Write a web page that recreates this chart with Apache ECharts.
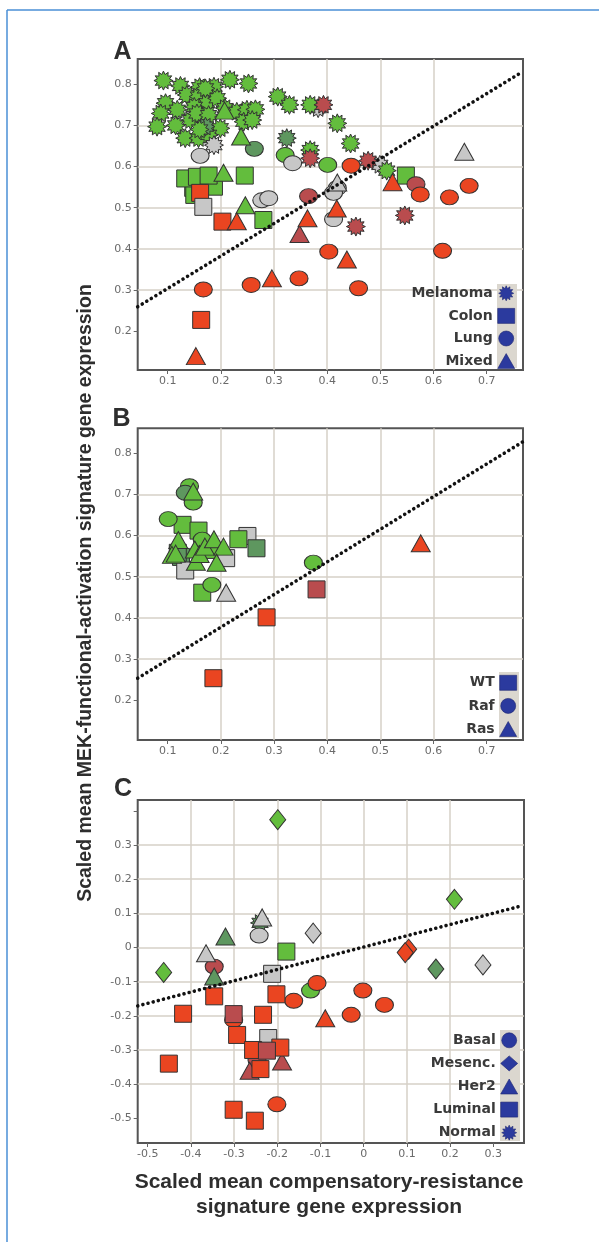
<!DOCTYPE html>
<html><head><meta charset="utf-8">
<script src="https://cdn.jsdelivr.net/npm/echarts@6/dist/echarts.min.js"></script>
<style>html,body{margin:0;padding:0;background:#fff;}#c{width:599px;height:1242px;}</style>
</head><body><div id="c"></div>
<script>
// ---------------- tick labels ----------------
const xTicksAB = [0.1, 0.2, 0.3, 0.4, 0.5, 0.6, 0.7];
const yTicksAB = [0.2, 0.3, 0.4, 0.5, 0.6, 0.7, 0.8];
const xTicksC = [-0.5, -0.4, -0.3, -0.2, -0.1, 0, 0.1, 0.2, 0.3];
const yTicksC = [-0.5, -0.4, -0.3, -0.2, -0.1, 0, 0.1, 0.2, 0.3];
const yTickMarksC = [-0.5, -0.4, -0.3, -0.2, -0.1, 0, 0.1, 0.2, 0.3, 0.4];

// colour codes: g = green, dg = dark green, gr = grey, r = red, dr = dark red
// ---------------- Panel A ----------------
const aMelanoma = [
  [0.092,0.809,'g'],[0.124,0.796,'g'],[0.160,0.793,'g'],[0.187,0.794,'g'],[0.217,0.811,'g'],[0.252,0.802,'g'],
  [0.096,0.754,'g'],[0.087,0.729,'g'],[0.118,0.738,'g'],[0.136,0.774,'g'],[0.158,0.770,'g'],[0.174,0.754,'g'],
  [0.193,0.766,'g'],[0.208,0.742,'g'],[0.230,0.733,'g'],[0.249,0.738,'g'],[0.265,0.739,'g'],[0.150,0.745,'g'],
  [0.080,0.697,'g'],[0.143,0.713,'g'],[0.155,0.729,'g'],[0.177,0.725,'g'],[0.199,0.693,'g'],[0.133,0.669,'g'],
  [0.158,0.669,'g'],[0.177,0.677,'g'],[0.243,0.709,'g'],[0.259,0.713,'g'],[0.115,0.700,'g'],[0.171,0.790,'g'],
  [0.171,0.697,'dg'],[0.160,0.690,'g'],
  [0.307,0.770,'g'],[0.329,0.750,'g'],[0.383,0.742,'gr'],[0.368,0.750,'g'],[0.419,0.705,'g'],[0.444,0.656,'g'],
  [0.324,0.669,'dg'],[0.368,0.640,'g'],[0.187,0.652,'gr'],[0.499,0.604,'gr'],[0.512,0.590,'g'],
  [0.393,0.750,'dr'],[0.368,0.620,'dr'],[0.477,0.614,'dr'],[0.454,0.454,'dr'],[0.546,0.481,'dr']
];
const aColon = [
  [0.148,0.548,'g'],[0.187,0.551,'g'],[0.150,0.531,'g'],
  [0.133,0.571,'g'],[0.155,0.575,'g'],[0.177,0.578,'g'],[0.245,0.578,'g'],[0.280,0.470,'g'],[0.548,0.578,'g'],
  [0.161,0.536,'r'],[0.167,0.502,'gr'],[0.203,0.466,'r'],[0.163,0.227,'r']
];
const aLung = [
  [0.161,0.626,'gr'],[0.263,0.643,'dg'],[0.321,0.628,'g'],[0.335,0.608,'gr'],[0.401,0.604,'g'],
  [0.277,0.518,'gr'],[0.290,0.523,'gr'],[0.419,0.548,'gr'],[0.412,0.536,'gr'],[0.412,0.472,'gr'],
  [0.365,0.528,'dr'],[0.567,0.557,'dr'],
  [0.167,0.301,'r'],[0.257,0.312,'r'],[0.347,0.328,'r'],[0.459,0.304,'r'],[0.403,0.393,'r'],[0.617,0.395,'r'],
  [0.445,0.602,'r'],[0.575,0.532,'r'],[0.630,0.525,'r'],[0.667,0.553,'r']
];
const aMixed = [
  [0.238,0.673,'g'],[0.207,0.736,'g'],[0.205,0.585,'g'],[0.246,0.506,'g'],
  [0.658,0.636,'gr'],[0.419,0.561,'gr'],
  [0.348,0.436,'dr'],
  [0.153,0.139,'r'],[0.296,0.328,'r'],[0.437,0.374,'r'],[0.363,0.474,'r'],[0.418,0.498,'r'],[0.230,0.467,'r'],[0.523,0.562,'r']
];
const trendA = [[0.0436,0.259],[0.768,0.831]];

// ---------------- Panel B ----------------
const bWT = [
  [0.128,0.626,'g'],[0.158,0.612,'g'],[0.180,0.565,'g'],[0.250,0.599,'gr'],[0.233,0.591,'g'],[0.267,0.569,'dg'],
  [0.125,0.548,'dg'],[0.133,0.515,'gr'],[0.119,0.558,'dg'],[0.210,0.545,'gr'],[0.165,0.461,'g'],
  [0.186,0.253,'r'],[0.286,0.401,'r'],[0.380,0.469,'dr']
];
const bRaf = [
  [0.141,0.720,'g'],[0.133,0.704,'dg'],[0.148,0.680,'g'],[0.101,0.640,'g'],[0.165,0.590,'g'],
  [0.183,0.480,'g'],[0.374,0.534,'g']
];
const bRas = [
  [0.148,0.707,'g'],[0.120,0.589,'g'],[0.108,0.553,'g'],[0.115,0.556,'g'],[0.151,0.566,'g'],[0.153,0.536,'g'],
  [0.160,0.555,'g'],[0.170,0.573,'g'],[0.187,0.591,'g'],[0.205,0.573,'g'],[0.192,0.534,'g'],
  [0.210,0.461,'gr'],[0.576,0.581,'r']
];
const trendB = [[0.0436,0.253],[0.768,0.828]];

// ---------------- Panel C ----------------
const cNormal = [[-0.240,0.072,'dg']];
const cBasal = [
  [-0.242,0.035,'gr'],[-0.346,-0.056,'dr'],[-0.123,-0.126,'g'],
  [-0.301,-0.212,'r'],[-0.162,-0.156,'r'],[-0.108,-0.104,'r'],[-0.002,-0.126,'r'],[0.048,-0.168,'r'],
  [-0.029,-0.197,'r'],[-0.201,-0.459,'r'],[-0.247,-0.329,'dr']
];
const cMesenc = [
  [-0.199,0.374,'g'],[0.210,0.141,'g'],[-0.463,-0.073,'g'],[0.167,-0.063,'dg'],
  [0.276,-0.051,'gr'],[-0.117,0.042,'gr'],[0.104,-0.005,'r'],[0.096,-0.015,'r']
];
const cHer2 = [
  [-0.235,0.088,'gr'],[-0.365,-0.017,'gr'],[-0.320,0.032,'dg'],[-0.346,-0.085,'dg'],
  [-0.089,-0.207,'r'],[-0.264,-0.361,'dr'],[-0.189,-0.334,'dr']
];
const cLuminal = [
  [-0.179,-0.012,'g'],[-0.212,-0.077,'gr'],
  [-0.346,-0.143,'r'],[-0.418,-0.194,'r'],[-0.451,-0.340,'r'],[-0.301,-0.195,'dr'],[-0.293,-0.256,'r'],
  [-0.233,-0.197,'r'],[-0.202,-0.137,'r'],[-0.221,-0.265,'gr'],[-0.256,-0.300,'r'],[-0.193,-0.293,'r'],
  [-0.224,-0.302,'dr'],[-0.239,-0.356,'r'],[-0.301,-0.475,'r'],[-0.252,-0.507,'r']
];
const trendC = [[-0.523,-0.171],[0.360,0.120]];

// ---------------- styles ----------------
const PAL = { g:'#63bd3d', dg:'#5e975f', gr:'#c7c7c7', r:'#ea4521', dr:'#b94c4e' };
const BLUE = '#2b3a9e';
function starPath(n, rIn) {
  let p = '';
  for (let i = 0; i < 2 * n; i++) {
    const r = i % 2 === 0 ? 50 : 50 * rIn;
    const a = Math.PI * i / n - Math.PI / 2;
    p += (i ? 'L' : 'M') + (50 + r * Math.cos(a)).toFixed(2) + ',' + (50 + r * Math.sin(a)).toFixed(2);
  }
  return 'path://' + p + 'Z';
}
const STAR = starPath(12, 0.66);
const ELLIPSE = 'path://M0,50A50,50 0 1,1 100,50A50,50 0 1,1 0,50Z';
const SYM = {
  star: [STAR, [19, 19]], rect: ['rect', [17, 17]], ell: [ELLIPSE, [18, 15]],
  tri: ['triangle', [19, 17]], dia: ['diamond', [16, 20]]
};
function scat(name, arr, sym, gi) {
  return {
    type: 'scatter', name, xAxisIndex: gi, yAxisIndex: gi,
    symbol: SYM[sym][0], symbolSize: SYM[sym][1], z: 3, silent: true,
    itemStyle: { color: BLUE, borderColor: '#333', borderWidth: 1, opacity: 1 },
    data: arr.map(d => ({ value: [d[0], d[1]], itemStyle: { color: PAL[d[2]] } }))
  };
}
function trend(name, arr, gi) {
  return {
    type: 'line', name, xAxisIndex: gi, yAxisIndex: gi, data: arr, symbol: 'none', silent: true, z: 6,
    lineStyle: { color: '#111', width: 3.6, type: [0.01, 5.3], cap: 'round' }
  };
}
const fmt = v => String(Number(v.toFixed(1)));
const AXF = 'DejaVu Sans';
function axis(pos, min, max, ticks, marks) {
  return {
    type: 'value', position: pos, min, max, minInterval: 0.1, maxInterval: 0.1, splitNumber: 8,
    axisLine: { show: false, onZero: false },
    axisTick: { show: true, length: 4, customValues: marks || ticks, lineStyle: { color: '#666', width: 1 } },
    axisLabel: { customValues: ticks, formatter: fmt, color: '#6a6a6a', fontSize: 11, fontFamily: AXF, margin: 6 },
    splitLine: { show: true, showMinLine: false, showMaxLine: false, lineStyle: { color: '#d6d0c7', width: 1.5 } }
  };
}
function legendItem(name, icon) { return { name, icon, itemStyle: { color: BLUE, borderColor: '#1c2570', borderWidth: 0.6 } }; }
function legend(items, right, top, gap) {
  return {
    orient: 'vertical', align: 'right', right, top, itemGap: gap, itemWidth: 17, itemHeight: 15, padding: 0,
    selectedMode: false, data: items,
    textStyle: { fontFamily: AXF, fontWeight: 'bold', fontSize: 14, color: '#3a3a3a', padding: [0, 0, 0, 0] }
  };
}
const grids = [
  { left: 137.7, top: 59, width: 385.3, height: 311 },
  { left: 137.7, top: 428.3, width: 385.3, height: 311.7 },
  { left: 137.7, top: 800, width: 386.3, height: 343 }
].map(g => Object.assign(g, { show: true, borderColor: '#555', borderWidth: 2, backgroundColor: '#fff', containLabel: false }));

const T = (text, x, y, font, rot) => ({
  type: 'text', x, y, rotation: rot || 0, z: 10,
  style: { text, font, fill: '#2e2e2e', align: 'center', verticalAlign: 'middle' }
});
const LS = '"Liberation Sans", Arial, sans-serif';

const option = {
  animation: false,
  backgroundColor: '#fff',
  grid: grids,
  xAxis: [axis('bottom', 0.0436, 0.7683, xTicksAB), axis('bottom', 0.0436, 0.7683, xTicksAB), axis('bottom', -0.5231, 0.371, xTicksC)]
    .map((a, i) => Object.assign(a, { gridIndex: i })),
  yAxis: [axis('left', 0.1052, 0.8615, yTicksAB), axis('left', 0.1027, 0.8608, yTicksAB), axis('left', -0.5723, 0.4317, yTicksC, yTickMarksC)]
    .map((a, i) => Object.assign(a, { gridIndex: i })),
  legend: [
    legend([legendItem('Melanoma', STAR), legendItem('Colon', 'rect'), legendItem('Lung', ELLIPSE), legendItem('Mixed', 'triangle')], 84, 285.5, 7),
    legend([legendItem('WT', 'rect'), legendItem('Raf', ELLIPSE), legendItem('Ras', 'triangle')], 82, 675, 7.5),
    legend([legendItem('Basal', ELLIPSE), legendItem('Mesenc.', 'diamond'), legendItem('Her2', 'triangle'), legendItem('Luminal', 'rect'), legendItem('Normal', STAR)], 81, 1032.5, 7.5)
  ],
  graphic: [
    { type: 'line', z: 10, shape: { x1: 7, y1: 10, x2: 599, y2: 10 }, style: { stroke: '#4a8fd6', lineWidth: 1.5 } },
    { type: 'line', z: 10, shape: { x1: 7, y1: 10, x2: 7, y2: 1242 }, style: { stroke: '#4a8fd6', lineWidth: 1.5 } },
    { type: 'rect', z: 1, shape: { x: 497, y: 284, width: 20, height: 84 }, style: { fill: '#dbd7cf' } },
    { type: 'rect', z: 1, shape: { x: 499, y: 672, width: 20, height: 66 }, style: { fill: '#dbd7cf' } },
    { type: 'rect', z: 1, shape: { x: 500, y: 1030, width: 20, height: 111 }, style: { fill: '#dbd7cf' } },
    T('A', 122.5, 52, 'bold 25px ' + LS),
    T('B', 121.5, 419, 'bold 25px ' + LS),
    T('C', 123, 789, 'bold 25px ' + LS),
    T('Scaled mean MEK-functional-activation signature gene expression', 86, 593, 'bold 19.5px ' + LS, Math.PI / 2),
    T('Scaled mean compensatory-resistance', 329, 1182, 'bold 21px ' + LS),
    T('signature gene expression', 329, 1207, 'bold 21px ' + LS)
  ],
  series: [
    scat('Melanoma', aMelanoma, 'star', 0), scat('Colon', aColon, 'rect', 0), scat('Lung', aLung, 'ell', 0), scat('Mixed', aMixed, 'tri', 0),
    trend('trendA', trendA, 0),
    scat('WT', bWT, 'rect', 1), scat('Raf', bRaf, 'ell', 1), scat('Ras', bRas, 'tri', 1),
    trend('trendB', trendB, 1),
    scat('Normal', cNormal, 'star', 2), scat('Basal', cBasal, 'ell', 2), scat('Mesenc.', cMesenc, 'dia', 2),
    scat('Her2', cHer2, 'tri', 2), scat('Luminal', cLuminal, 'rect', 2),
    trend('trendC', trendC, 2)
  ]
};
const chart = echarts.init(document.getElementById('c'), null, { renderer: 'canvas' });
chart.setOption(option);
</script></body></html>
